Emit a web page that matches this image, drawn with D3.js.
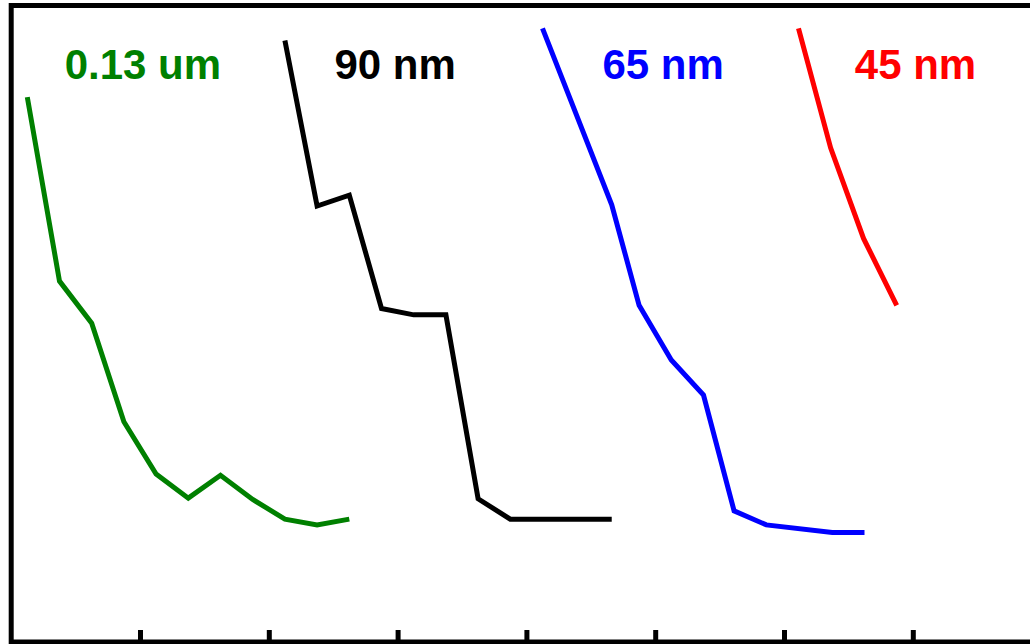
<!DOCTYPE html>
<html>
<head>
<meta charset="utf-8">
<script src="https://cdn.jsdelivr.net/npm/d3@7"></script>
<style>
  body { margin: 0; background: #fff; }
  svg { display: block; }
</style>
</head>
<body>
<div id="chart"></div>
<script>
// x in quarters from start of axis, y in arbitrary units (0 = bottom axis)
const series = ["0.13 um", "90 nm", "65 nm", "45 nm"];
const colors = ["#008000", "#000000", "#0000ff", "#ff0000"];

const greenX = [0.5, 1.5, 2.5, 3.5, 4.5, 5.5, 6.5, 7.5, 8.5, 9.5, 10.5];
const greenY = [85.6, 56.7, 50.1, 34.6, 26.4, 22.6, 26.2, 22.4, 19.3, 18.4, 19.3];

const blackX = [8.5, 9.5, 10.5, 11.5, 12.5, 13.5, 14.5, 15.5, 16.5, 17.5, 18.65];
const blackY = [94.5, 68.5, 70.2, 52.4, 51.4, 51.4, 22.5, 19.3, 19.3, 19.3, 19.3];

const blueX = [16.5, 18.65, 19.5, 20.5, 21.5, 22.45, 23.45, 25.5, 26.5];
const blueY = [96.4, 68.7, 52.9, 44.3, 38.8, 20.6, 18.4, 17.2, 17.2];

const redX = [24.45, 25.45, 26.47, 27.5];
const redY = [96.4, 77.6, 63.4, 52.9];

const tickValues = [4, 8, 12, 16, 20, 24, 28];

// where each label starts (x in quarters) and its baseline (y units)
const labelX = [1.66, 10.04, 18.36, 26.2];
const labelY = 88.5;

const xs = [greenX, blackX, blueX, redX];
const ys = [greenY, blackY, blueY, redY];

const width = 1030, height = 644;

const svg = d3.select("#chart").append("svg")
    .attr("width", width)
    .attr("height", height);

const xScale = d3.scaleLinear()
    .domain([0, 32])
    .range([11.2, 11.2 + 32 * 32.2]);

const yScale = d3.scaleLinear()
    .domain([0, 100])
    .range([642, 5.5]);

// frame (right edge falls outside the picture)
svg.append("rect")
    .attr("x", xScale(0))
    .attr("y", yScale(100))
    .attr("width", xScale(32) - xScale(0))
    .attr("height", yScale(0) - yScale(100))
    .attr("fill", "none")
    .attr("stroke", "#000")
    .attr("stroke-width", 5);

const xAxis = d3.axisBottom(xScale)
    .tickValues(tickValues)
    .tickFormat("")
    .tickSizeInner(-12)
    .tickSizeOuter(0);

const xAxisGroup = svg.append("g")
    .attr("transform", `translate(0, ${yScale(0)})`)
    .call(xAxis);

xAxisGroup.select(".domain").remove();
xAxisGroup.selectAll(".tick line")
    .attr("stroke", "#000")
    .attr("stroke-width", 5);

const line = d3.line()
    .x(d => xScale(d[0]))
    .y(d => yScale(d[1]));

series.forEach((name, i) => {
    const pts = xs[i].map((x, j) => [x, ys[i][j]]);

    svg.append("path")
        .datum(pts)
        .attr("d", line)
        .attr("fill", "none")
        .attr("stroke", colors[i])
        .attr("stroke-width", 5)
        .attr("stroke-linejoin", "miter");

    svg.append("text")
        .attr("x", xScale(labelX[i]))
        .attr("y", yScale(labelY))
        .attr("fill", colors[i])
        .attr("font-family", "'Liberation Sans', Arial, sans-serif")
        .attr("font-weight", "bold")
        .attr("font-size", 42)
        .text(name);
});
</script>
</body>
</html>
